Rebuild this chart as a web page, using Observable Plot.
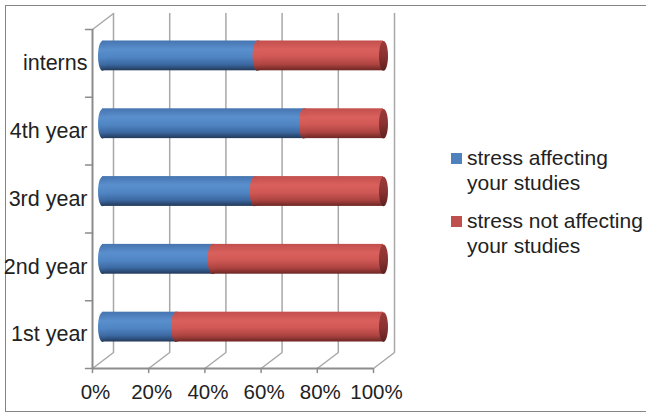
<!DOCTYPE html>
<html><head><meta charset="utf-8">
<script src="https://cdn.jsdelivr.net/npm/d3@7"></script>
<script src="https://cdn.jsdelivr.net/npm/@observablehq/plot@0.6"></script>
<style>
body{margin:0;background:#fff;font-family:"Liberation Sans",Arial,sans-serif;}
#wrap{position:relative;width:646px;height:414px;overflow:hidden;background:#fff;}
#frame{position:absolute;left:5px;top:5px;width:660px;height:407px;border:1.5px solid #858585;box-sizing:border-box;}
#chart{position:absolute;left:0;top:0;}
#legend{position:absolute;left:451px;top:145px;width:200px;font-size:21px;line-height:25px;color:#222;}
.item{position:relative;padding-left:16px;width:182px;margin-bottom:13px;}
.sw{position:absolute;left:0;top:8px;width:11px;height:11px;}
</style></head><body>
<div id="wrap"><div id="frame"></div><div id="chart"></div><div id="legend"></div></div>
<script>
const categories = ["1st year", "2nd year", "3rd year", "4th year", "interns"];
const affecting = [26, 39, 54, 71.5, 55];
const notAffecting = [74, 61, 46, 28.5, 45];
const xTicks = [0, 20, 40, 60, 80, 100];
const seriesNames = ["stress affecting your studies", "stress not affecting your studies"];
const seriesColors = ["#4f81bd", "#c0504d"];

const rows = categories.map((c, i) => ({cat: c, i, a: affecting[i], n: notAffecting[i]}));
const bounds = d3.range(categories.length + 1);

const ellipse = {
  draw(ctx) {
    const rx = 4.5, ry = 14.8, k = 0.5523;
    ctx.moveTo(0, -ry);
    ctx.bezierCurveTo(rx * k, -ry, rx, -ry * k, rx, 0);
    ctx.bezierCurveTo(rx, ry * k, rx * k, ry, 0, ry);
    ctx.bezierCurveTo(-rx * k, ry, -rx, ry * k, -rx, 0);
    ctx.bezierCurveTo(-rx, -ry * k, -rx * k, -ry, 0, -ry);
    ctx.closePath();
  }
};

const grid = "#a8a8a8", axisC = "#8c8c8c";
const off = {dx: 10, dy: -7.5};

const plot = Plot.plot({
  width: 646, height: 414,
  marginLeft: 92, marginRight: 273, marginTop: 29, marginBottom: 46,
  x: {domain: [0, 100], axis: null},
  y: {domain: [0, 5], axis: null},
  style: {fontFamily: "'Liberation Sans', Arial, sans-serif", background: "none", color: "#222"},
  marks: [
    Plot.ruleX(xTicks, {x: d => d, y1: 0, y2: 5, dx: 21, dy: -16, stroke: grid, strokeWidth: 1.5}),
    Plot.vector(xTicks, {x: d => d, y: 0, length: 26.4, rotate: 52.7, anchor: "start", r: 0, stroke: grid, strokeWidth: 1.5}),
    Plot.vector([5], {x: 0, y: d => d, length: 26.4, rotate: 52.7, anchor: "start", r: 0, stroke: grid, strokeWidth: 1.5}),
    Plot.ruleX([0], {y1: 0, y2: 5, stroke: axisC, strokeWidth: 2}),
    Plot.ruleY([0], {x1: 0, x2: 100, stroke: axisC, strokeWidth: 2}),
    Plot.vector(bounds, {x: 0, y: d => d, length: 7, rotate: -90, anchor: "start", r: 0, stroke: axisC, strokeWidth: 1.5}),
    Plot.vector(xTicks, {x: d => d, y: 0, length: 4, rotate: 180, anchor: "start", r: 0, stroke: axisC, strokeWidth: 1.5}),
    Plot.rect(rows, {x1: 0, x2: "a", y1: d => d.i + 0.28, y2: d => d.i + 0.72, fill: "url(#gBlue)", insetRight: -3, ...off}),
    Plot.dot(rows, {x: 0, y: d => d.i + 0.5, symbol: ellipse, fill: "url(#gBlue)", ...off}),
    Plot.rect(rows, {x1: "a", x2: d => d.a + d.n, y1: d => d.i + 0.28, y2: d => d.i + 0.72, fill: "url(#gRed)", ...off}),
    Plot.dot(rows, {x: "a", y: d => d.i + 0.5, symbol: ellipse, fill: "url(#gRed)", ...off}),
    Plot.dot(rows, {x: d => d.a + d.n, y: d => d.i + 0.5, symbol: ellipse, fill: "url(#gCap)", ...off}),
    Plot.text(rows, {x: 0, y: d => d.i + 0.5, text: "cat", textAnchor: "end", dx: -5, fontSize: 21.5, fill: "#222"}),
    Plot.text(xTicks, {x: d => d, y: 0, text: d => d + "%", dy: 24, dx: 3, fontSize: 20.5, fill: "#222"})
  ]
});

plot.insertAdjacentHTML("afterbegin", `<defs>
<linearGradient id="gBlue" x1="0" y1="0" x2="0" y2="1">
<stop offset="0" stop-color="#4675b0"/><stop offset="0.3" stop-color="#5a8fce"/><stop offset="0.55" stop-color="#5085c4"/>
<stop offset="0.8" stop-color="#3c69a2"/><stop offset="1" stop-color="#22395a"/></linearGradient>
<linearGradient id="gRed" x1="0" y1="0" x2="0" y2="1">
<stop offset="0" stop-color="#c24f4c"/><stop offset="0.3" stop-color="#d9605d"/><stop offset="0.55" stop-color="#cf5754"/>
<stop offset="0.8" stop-color="#ad4441"/><stop offset="1" stop-color="#6c2624"/></linearGradient>
<linearGradient id="gCap" x1="0" y1="0" x2="0" y2="1">
<stop offset="0" stop-color="#9a3b39"/><stop offset="0.5" stop-color="#8a3331"/><stop offset="1" stop-color="#5e201f"/></linearGradient>
</defs>`);
document.getElementById("chart").appendChild(plot);

const legend = document.getElementById("legend");
seriesNames.forEach((name, k) => {
  const item = document.createElement("div");
  item.className = "item";
  item.innerHTML = `<span class="sw" style="background:${seriesColors[k]}"></span>${name}`;
  legend.appendChild(item);
});
</script>
</body></html>
